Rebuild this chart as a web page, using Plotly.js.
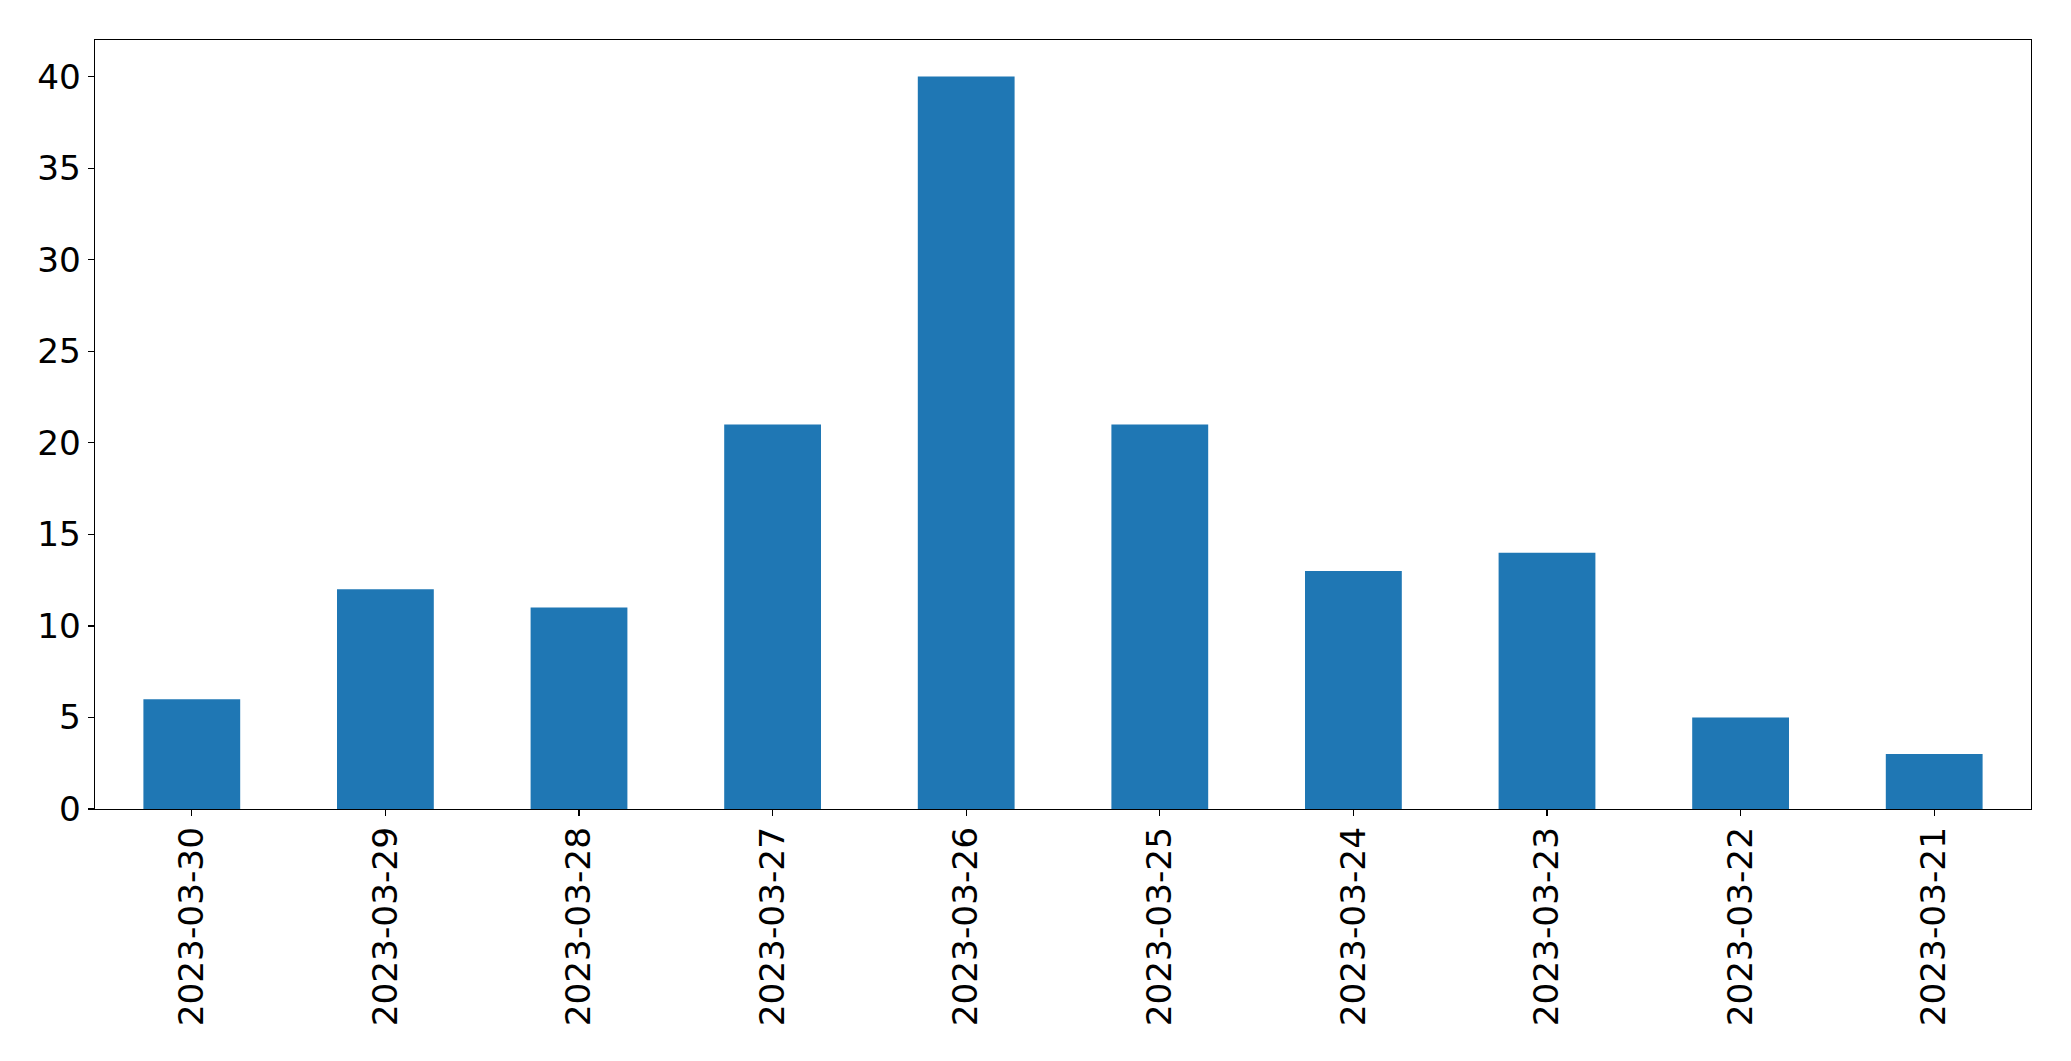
<!DOCTYPE html>
<html>
<head>
<meta charset="utf-8">
<script src="https://cdn.plot.ly/plotly-3.0.1.min.js"></script>
<style>html,body{margin:0;padding:0;background:#fff;}#chart{width:2071px;height:1061px;}</style>
</head>
<body>
<div id="chart"></div>
<script>
const dates = ["2023-03-30","2023-03-29","2023-03-28","2023-03-27","2023-03-26","2023-03-25","2023-03-24","2023-03-23","2023-03-22","2023-03-21"];
const counts = [6,12,11,21,40,21,13,14,5,3];
const yTicks = [0,5,10,15,20,25,30,35,40];

const font = {family: "DejaVu Sans", size: 34.3, color: "#000"};
Plotly.newPlot("chart", [{
  type: "bar",
  x: dates,
  y: counts,
  width: 0.5,
  marker: {color: "#1f77b4", line: {width: 0}},
  hoverinfo: "x+y"
}], {
  width: 2071, height: 1061,
  margin: {l: 94.5, r: 39.5, t: 39.5, b: 252, pad: 0},
  paper_bgcolor: "#fff", plot_bgcolor: "#fff",
  showlegend: false,
  font: font,
  xaxis: {
    type: "category",
    range: [-0.5, 9.5],
    tickangle: -90,
    ticks: "outside", ticklen: 6, tickwidth: 1.3, tickcolor: "#000",
    ticklabelstandoff: -3,
    showline: true, linecolor: "#000", linewidth: 1.3, mirror: true,
    showgrid: false, zeroline: false,
    tickfont: font
  },
  yaxis: {
    range: [0, 42],
    tickvals: yTicks,
    ticktext: yTicks.map(String),
    ticks: "outside", ticklen: 6, tickwidth: 1.3, tickcolor: "#000",
    showline: true, linecolor: "#000", linewidth: 1.3, mirror: true,
    showgrid: false, zeroline: false,
    tickfont: font
  }
}, {staticPlot: true});
</script>
</body>
</html>
